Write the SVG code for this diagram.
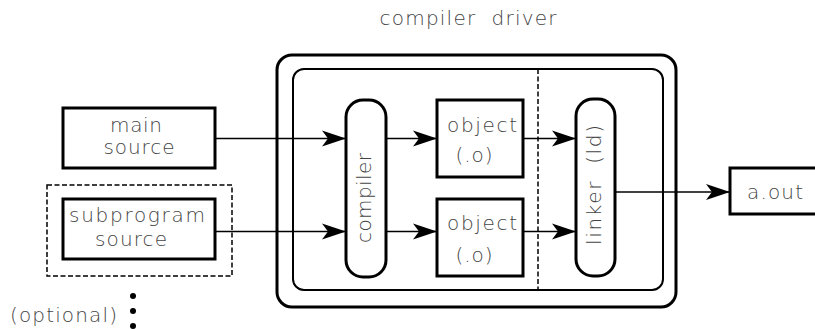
<svg xmlns="http://www.w3.org/2000/svg" width="815" height="329" viewBox="0 0 815 329">
<defs>
<style>
.t{font-family:"DejaVu Sans","Liberation Sans",sans-serif;font-weight:200;font-size:20px;fill:#444;text-anchor:middle;white-space:pre}
.box{fill:#fff;stroke:#000;stroke-width:3}
.ln{fill:none;stroke:#000;stroke-width:1.6}
.dash{fill:none;stroke:#000;stroke-width:1.5;stroke-dasharray:5 2.5}
</style>
<marker id="ah" markerUnits="userSpaceOnUse" viewBox="-25 -9 25 18" markerWidth="25" markerHeight="18" refX="0" refY="0" orient="auto">
<path d="M0,0 L-24,-8 L-18,0 L-24,8 Z" fill="#000"/>
</marker>
</defs>
<text class="t" x="468" y="25" font-size="18" xml:space="preserve" textLength="177" lengthAdjust="spacing">compiler  driver</text>
<g id="driver">
<rect x="277" y="55" width="399" height="252" rx="15" fill="#fff" stroke="#000" stroke-width="3"/>
<rect x="293" y="69" width="370" height="221" rx="11" fill="none" stroke="#000" stroke-width="2"/>
<line x1="538" y1="69" x2="538" y2="290" class="dash"/>
</g>
<g id="optional-group">
<rect x="47" y="185" width="185" height="91" class="dash"/>
<text class="t" x="10" y="322" style="text-anchor:start" textLength="107" lengthAdjust="spacing">(optional)</text>
<circle cx="133" cy="296" r="3"/>
<circle cx="133" cy="311" r="3"/>
<circle cx="133" cy="326" r="3"/>
</g>
<g id="connectors">
<line class="ln" x1="215" y1="138.5" x2="346" y2="138.5" marker-end="url(#ah)"/>
<line class="ln" x1="215" y1="231.5" x2="346" y2="231.5" marker-end="url(#ah)"/>
<line class="ln" x1="386" y1="138.5" x2="437" y2="138.5" marker-end="url(#ah)"/>
<line class="ln" x1="386" y1="231.5" x2="437" y2="231.5" marker-end="url(#ah)"/>
<line class="ln" x1="523" y1="138.5" x2="576" y2="138.5" marker-end="url(#ah)"/>
<line class="ln" x1="523" y1="231.5" x2="576" y2="231.5" marker-end="url(#ah)"/>
<line class="ln" x1="615" y1="192" x2="730" y2="192" marker-end="url(#ah)"/>
</g>
<g id="main-source">
<rect class="box" x="63" y="108" width="152" height="60"/>
<text class="t" x="136" y="132" textLength="52" lengthAdjust="spacing">main</text>
<text class="t" x="139" y="154" textLength="71" lengthAdjust="spacing">source</text>
</g>
<g id="subprogram-source">
<rect class="box" x="63" y="199" width="152" height="60"/>
<text class="t" x="137" y="222" textLength="136" lengthAdjust="spacing">subprogram</text>
<text class="t" x="131" y="246" textLength="72" lengthAdjust="spacing">source</text>
</g>
<g id="compiler">
<rect class="box" x="346" y="100" width="40" height="177" rx="17"/>
<text class="t" transform="translate(371,198) rotate(-90)" textLength="90" lengthAdjust="spacing">compiler</text>
</g>
<g id="object1">
<rect class="box" x="437" y="100" width="86" height="77"/>
<text class="t" x="482" y="132" textLength="70" lengthAdjust="spacing">object</text>
<text class="t" x="474" y="162" textLength="37" lengthAdjust="spacing">(.o)</text>
</g>
<g id="object2">
<rect class="box" x="437" y="199" width="86" height="77"/>
<text class="t" x="482" y="230" textLength="70" lengthAdjust="spacing">object</text>
<text class="t" x="474" y="262" textLength="37" lengthAdjust="spacing">(.o)</text>
</g>
<g id="linker">
<rect class="box" x="576" y="99" width="39" height="177" rx="17"/>
<text class="t" transform="translate(601,185) rotate(-90)" xml:space="preserve" textLength="120" lengthAdjust="spacing">linker  (ld)</text>
</g>
<g id="aout">
<rect class="box" x="730" y="168" width="90" height="46"/>
<text class="t" x="775" y="199" textLength="56" lengthAdjust="spacing">a.out</text>
</g>
</svg>
